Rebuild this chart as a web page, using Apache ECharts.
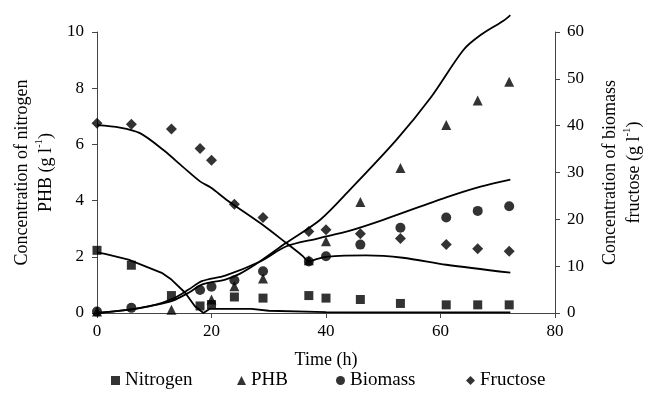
<!DOCTYPE html>
<html>
<head>
<meta charset="utf-8">
<script src="https://cdn.jsdelivr.net/npm/echarts@6/dist/echarts.min.js"></script>
<style>
  html, body { margin: 0; padding: 0; background: #fff; }
  #chart { width: 646px; height: 393px; }
</style>
</head>
<body>
<div id="chart"></div>
<script>
// measured points (h)
const nitrogenT = [0, 6, 13, 18, 20, 24, 29, 37, 40, 46, 53, 61, 66.5, 72];
const nitrogen = [2.23, 1.7, 0.62, 0.25, 0.3, 0.57, 0.53, 0.62, 0.53, 0.48, 0.34, 0.29, 0.29, 0.29];

const phbT = [0, 13, 20, 24, 29, 37, 40, 46, 53, 61, 66.5, 72];
const phb = [0.05, 0.12, 0.48, 0.95, 1.23, 1.88, 2.55, 3.95, 5.16, 6.69, 7.56, 8.23];

// biomass + fructose read on the right axis
const biomassT = [0, 6, 18, 20, 24, 29, 37, 40, 46, 53, 61, 66.5, 72];
const biomass = [0.3, 1.1, 4.9, 5.6, 7.0, 8.9, 11.0, 12.1, 14.6, 18.2, 20.4, 21.8, 22.8];

const fructoseT = [0, 6, 13, 18, 20, 24, 29, 37, 40, 46, 53, 61, 66.5, 72];
const fructose = [40.5, 40.3, 39.3, 35.1, 32.6, 23.2, 20.4, 17.4, 17.8, 16.9, 15.9, 14.6, 13.7, 13.2];

// model curves
const nitrogenModelT = [0, 1.4, 5.5, 11.3, 13, 15.4, 17.1, 18.6, 19.7, 27, 30, 40, 72.2];
const nitrogenModel = [2.16, 2.1, 1.9, 1.43, 1.19, 0.72, 0.24, 0.0, 0.15, 0.15, 0.08, 0.03, 0.02];

const phbModelT = [0, 5, 10, 13, 16, 18.3, 22.4, 25, 28.5, 33, 39, 44.2, 52.3, 58.2, 64, 67, 71, 72.2];
const phbModel = [0, 0.1, 0.28, 0.42, 0.72, 1.01, 1.19, 1.4, 1.84, 2.49, 3.32, 4.39, 6.16, 7.64, 9.36, 9.89, 10.4, 10.6];

const biomassModelT = [0, 5, 10, 13, 16, 18.3, 22.4, 28.5, 33, 38.5, 44.2, 50, 61, 67, 72.2];
const biomassModel = [0, 0.6, 1.7, 2.9, 5.0, 6.8, 8.0, 11.0, 14.2, 15.9, 17.6, 19.9, 24.7, 27.0, 28.5];

const fructoseModelT = [0, 4, 7.5, 11.6, 15, 18, 20, 22.6, 28.5, 33, 36, 36.9, 38.1, 40, 47, 53.4, 61, 72.2];
const fructoseModel = [40.1, 39.6, 38.4, 34.8, 31.2, 28.1, 26.7, 24.2, 19.2, 15.0, 12.1, 11.0, 11.4, 12.0, 12.3, 11.8, 10.3, 8.6];

const legendNames = ["Nitrogen", "PHB", "Biomass", "Fructose"];
const legendLeft = [111, 237, 336, 466];

const zip = (t, v) => t.map((x, i) => [x, v[i]]);

const FONT = "Liberation Serif";
const txt = { fontFamily: FONT, fontSize: 17, color: "#000" };
const bigTxt = { fontFamily: FONT, fontSize: 18, color: "#000" };

const chart = echarts.init(document.getElementById("chart"));

const scatter = (name, symbol, size, t, v, yAxisIndex) => ({
  name,
  type: "scatter",
  symbol,
  symbolSize: size,
  yAxisIndex,
  data: zip(t, v),
  itemStyle: { color: "#000" },
  z: 3,
});

const model = (name, t, v, yAxisIndex, smooth) => ({
  name,
  type: "line",
  yAxisIndex,
  data: zip(t, v),
  showSymbol: false,
  symbol: "none",
  smooth,
  clip: false,
  lineStyle: { color: "#000", width: 1.8 },
  z: 2,
});

const axisCommon = {
  axisLine: { show: true, lineStyle: { color: "#444", width: 1 } },
  axisTick: { show: true, inside: false, length: 5, lineStyle: { color: "#444" } },
  splitLine: { show: false },
};

const nameRich = {
  a: { fontFamily: FONT, fontSize: 18, color: "#000", lineHeight: 24 },
  s: { fontFamily: FONT, fontSize: 11, color: "#000", verticalAlign: "top", lineHeight: 24 },
};

chart.setOption({
  animation: false,
  backgroundColor: "#fff",
  grid: { left: 97, right: 91, top: 32, bottom: 80, outerBoundsMode: "none", containLabel: false },
  // one legend per entry so each sits where the original puts it
  legend: legendNames.map((name, i) => ({
    data: [name],
    left: legendLeft[i],
    top: 371,
    padding: 0,
    itemWidth: 9,
    itemHeight: 9,
    textStyle: { fontFamily: FONT, fontSize: 19, color: "#000" },
  })),
  xAxis: {
    type: "value",
    min: 0,
    max: 80,
    interval: 20,
    ...axisCommon,
    axisLabel: { ...txt, margin: 10 },
    name: "Time (h)",
    nameLocation: "middle",
    nameGap: 38,
    nameTextStyle: { ...bigTxt },
  },
  yAxis: [
    {
      type: "value",
      min: 0,
      max: 10,
      interval: 2,
      position: "left",
      ...axisCommon,
      axisLabel: { ...txt, margin: 13 },
      name: "{a|Concentration of nitrogen}\n{a|PHB (g l}{s|-1}{a|)}",
      nameLocation: "middle",
      nameRotate: 90,
      nameGap: 39,
      nameTextStyle: { rich: nameRich },
    },
    {
      type: "value",
      min: 0,
      max: 60,
      interval: 10,
      position: "right",
      ...axisCommon,
      axisLabel: { ...txt, margin: 12 },
      name: "{a|Concentration of biomass}\n{a|fructose (g l}{s|-1}{a|)}",
      nameLocation: "middle",
      nameRotate: 90,
      nameGap: 43,
      nameTextStyle: { rich: nameRich },
    },
  ],
  series: [
    model("Nitrogen model", nitrogenModelT, nitrogenModel, 0, false),
    model("PHB model", phbModelT, phbModel, 0, 0.3),
    model("Biomass model", biomassModelT, biomassModel, 1, 0.3),
    model("Fructose model", fructoseModelT, fructoseModel, 1, 0.3),
    scatter("Nitrogen", "rect", 9, nitrogenT, nitrogen, 0),
    scatter("PHB", "triangle", 10, phbT, phb, 0),
    scatter("Biomass", "circle", 10, biomassT, biomass, 1),
    scatter("Fructose", "diamond", 11, fructoseT, fructose, 1),
  ],
});
</script>
</body>
</html>
